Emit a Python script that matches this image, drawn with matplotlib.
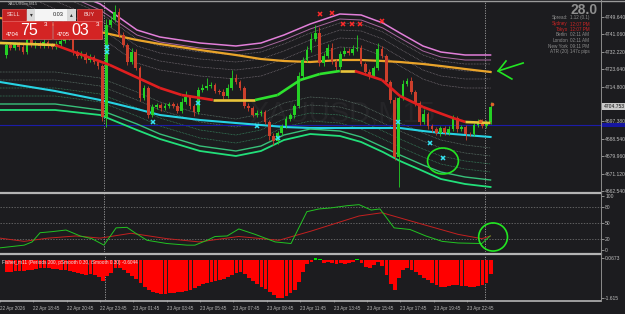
import matplotlib
matplotlib.use("Agg")
import matplotlib.pyplot as plt
import matplotlib.transforms as mtransforms
from matplotlib.patches import Rectangle, Ellipse

plt.rcParams['font.family'] = ['Liberation Sans', 'DejaVu Sans']

W, H = 625, 314
BG = '#1c1c1f'

# ---- candles (M15), prices ----
first_open = 4730.6
closes = [
    4735.6, 4734.1, 4736.1, 4734.6, 4732.1, 4738.1, 4735.6, 4736.6, 4735.1, 4737.1,
    4735.6, 4734.6, 4736.1, 4737.6, 4739.1, 4740.1, 4732.1, 4730.1, 4731.1, 4728.1,
    4729.6, 4727.1, 4725.1, 4699.6, 4745.6, 4748.1, 4752.1, 4740.6, 4735.6, 4727.1,
    4732.1, 4724.1, 4709.1, 4714.1, 4700.6, 4704.6, 4705.6, 4704.1, 4705.1, 4706.1,
    4705.1, 4702.6, 4707.1, 4709.6, 4705.1, 4702.1, 4713.1, 4714.1, 4715.1, 4715.6,
    4712.6, 4712.1, 4710.1, 4714.1, 4719.1, 4717.1, 4714.1, 4705.1, 4704.1, 4700.6,
    4701.6, 4702.1, 4697.1, 4690.1, 4687.6, 4691.6, 4695.1, 4698.6, 4700.6, 4705.1,
    4720.1, 4728.1, 4733.1, 4738.6, 4741.6, 4726.6, 4730.1, 4734.1, 4727.1, 4724.6,
    4731.1, 4732.6, 4731.6, 4733.6, 4734.1, 4726.1, 4722.1, 4720.1, 4724.1, 4733.6,
    4730.1, 4717.1, 4708.1, 4679.6, 4709.1, 4716.1, 4717.6, 4712.1, 4706.6, 4697.1,
    4701.1, 4695.1, 4693.6, 4691.6, 4694.1, 4691.6, 4693.6, 4699.1, 4693.6, 4694.6,
    4691.1, 4690.9, 4695.6, 4697.1, 4695.1, 4697.1, 4704.8,
]
wick_up = [
    1, 1.5, 1, 1, 2, 1, 1.5, 1, 1, 1.5,
    1, 1, 1.5, 1, 2, 1.5, 1, 1, 1.5, 1,
    1.5, 1, 1, 1, 3, 2, 3.5, 2, 1.5, 1,
    2, 1.5, 1, 1.5, 1, 1.5, 1, 1, 1.5, 1,
    1, 1.5, 2, 3, 1, 1, 1.5, 2, 4, 1.5,
    1, 1, 1.5, 2, 4, 2, 1, 1, 1.5, 1,
    1.5, 1, 1, 1, 1.5, 1, 1, 1.5, 1, 1,
    2, 1.5, 2, 3, 4, 3, 1.5, 2, 2.5, 1.5,
    1.5, 2, 1.5, 2, 6.5, 1.5, 1, 1.5, 1, 3,
    1.5, 1, 1, 1.5, 1, 2, 1.5, 2, 1, 1,
    2.5, 1, 1, 1, 1, 1, 1.5, 1.5, 1, 1,
    1, 1, 1, 1.5, 1.5, 1, 2.5,
]
wick_dn = [
    1.5, 1, 1, 1.5, 1, 1, 1, 1.5, 1, 1,
    1.5, 1, 1, 1, 1, 1, 1.5, 1, 1, 1.5,
    1, 1, 1.5, 2, 5, 1, 1, 1, 1, 1.5,
    1, 1, 1.5, 1, 1.5, 1, 1, 1.5, 1, 1,
    1, 1, 1, 1, 1.5, 2, 1, 1, 1, 1,
    1, 1, 1.5, 1, 1, 1, 1, 1, 1.5, 1,
    1, 1.5, 1, 2, 2, 1.5, 1, 1, 1, 1.5,
    1, 1, 1, 1, 1, 1.5, 1.5, 1, 1, 2,
    1, 1, 1, 1, 1, 1, 1.5, 1.5, 1, 1,
    1, 1, 1.5, 1.5, 15, 1, 1, 1, 1.5, 1.5,
    1, 1.5, 1.5, 1, 1.5, 1, 1, 1, 1.5, 1,
    3, 1, 1, 1, 1, 1, 1,
]

# ---- envelope lines, sampled at these bars ----
band_bars = [-1.5, 11.7, 22.5, 31.3, 36.8, 46.4, 55.0, 61.0, 66.5,
             72.8, 79.9, 85.0, 90.2, 94.3, 99.8, 104.1, 109.9, 116.0]
pink_outer = [4778.1, 4765.6, 4756.1, 4743.1, 4739.6, 4736.6, 4735.1, 4736.6, 4740.6,
              4746.1, 4751.1, 4750.6, 4746.6, 4741.6, 4735.1, 4732.1, 4730.6, 4730.6]
pink_inner = [4775.6, 4763.1, 4753.1, 4740.6, 4737.1, 4734.1, 4732.6, 4734.1, 4738.1,
              4743.6, 4748.6, 4748.1, 4744.1, 4739.1, 4732.6, 4729.6, 4728.1, 4728.1]
upper_lvl1 = [4773.6, 4761.1, 4751.6, 4738.6, 4735.1, 4732.1, 4730.6, 4732.1, 4736.1,
              4741.6, 4746.6, 4746.1, 4742.1, 4737.1, 4730.6, 4727.6, 4726.1, 4726.1]
upper_lvl2 = [4770.1, 4757.6, 4748.1, 4735.1, 4731.6, 4728.6, 4727.1, 4728.6, 4732.6,
              4738.1, 4743.1, 4742.6, 4738.6, 4733.6, 4727.1, 4724.1, 4722.6, 4722.6]
upper_lvl3 = [4766.1, 4753.6, 4744.1, 4731.1, 4727.6, 4724.6, 4723.1, 4724.6, 4728.6,
              4734.1, 4739.1, 4738.6, 4734.6, 4729.6, 4723.1, 4720.1, 4718.6, 4718.6]
upper_lvl4 = [4761.6, 4749.1, 4739.6, 4726.6, 4723.1, 4720.1, 4718.6, 4720.1, 4724.1,
              4729.6, 4734.6, 4734.1, 4730.1, 4725.1, 4718.6, 4715.6, 4714.1, 4714.1]
slow_ma = [4749.1, 4745.6, 4742.1, 4738.1, 4736.1, 4733.1, 4730.6, 4728.6, 4727.6,
           4727.1, 4728.1, 4728.1, 4727.6, 4727.1, 4726.1, 4725.1, 4723.6, 4722.1]
cyan_ma = [4717.1, 4712.6, 4708.1, 4703.6, 4700.6, 4698.1, 4696.6, 4695.6, 4694.6,
           4694.1, 4694.1, 4694.1, 4694.1, 4694.1, 4692.6, 4691.6, 4690.6, 4689.6]
lower_lvl4 = [4722.1, 4722.1, 4719.1, 4712.1, 4707.1, 4701.1, 4698.6, 4701.1, 4706.6,
              4709.6, 4708.6, 4705.6, 4700.6, 4696.6, 4691.6, 4688.1, 4685.6, 4684.1]
lower_lvl3 = [4718.1, 4718.1, 4715.1, 4708.1, 4703.1, 4697.1, 4694.6, 4697.1, 4702.6,
              4705.6, 4704.6, 4701.6, 4696.6, 4692.6, 4687.6, 4684.1, 4681.6, 4680.1]
lower_lvl2 = [4714.1, 4714.1, 4711.1, 4704.1, 4699.1, 4693.1, 4690.6, 4693.1, 4698.6,
              4701.6, 4700.6, 4697.6, 4692.6, 4688.6, 4683.6, 4680.1, 4677.6, 4676.1]
lower_lvl1 = [4710.1, 4710.1, 4707.1, 4700.1, 4695.1, 4689.1, 4686.6, 4689.1, 4694.6,
              4697.6, 4696.6, 4693.6, 4688.6, 4684.6, 4679.6, 4676.1, 4673.6, 4672.1]
green_upper = [4706.1, 4706.1, 4703.1, 4696.1, 4691.1, 4685.1, 4682.6, 4685.1, 4690.6,
               4693.6, 4692.6, 4689.6, 4684.6, 4680.6, 4675.6, 4672.1, 4669.6, 4668.1]
green_lower = [4703.1, 4703.1, 4700.6, 4693.1, 4688.6, 4682.6, 4680.1, 4682.6, 4688.1,
               4691.1, 4690.1, 4687.1, 4682.1, 4677.6, 4672.6, 4668.6, 4666.1, 4664.6]

# centre line, coloured by slope
center_bars = [-1.5, 11.7, 24.8, 36.8, 42.0, 49.5, 59.6, 65.0, 70.4, 75.1, 79.9,
               83.5, 90.0, 94.3, 99.8, 107.0, 110.0, 116.0]
center_vals = [4736.6, 4735.6, 4725.6, 4714.1, 4710.6, 4708.1, 4708.1, 4710.6, 4718.1,
               4721.1, 4722.6, 4722.6, 4718.1, 4710.1, 4704.6, 4699.1, 4697.1, 4696.6]
center_trend = ['flat', 'down', 'down', 'down', 'down', 'flat', 'up', 'up', 'up', 'up',
                'flat', 'down', 'down', 'down', 'down', 'down', 'flat']

blue_level = 4695.6
sell_bars = [75.1, 78.0, 80.7, 82.8, 84.7, 90.0]
sell_vals = [4751.1, 4751.6, 4746.1, 4746.1, 4746.1, 4747.6]
buy_bars = [24.1, 24.1, 35.1, 45.9, 60.1, 65.1, 93.8, 101.5, 104.6]
buy_vals = [4734.6, 4732.1, 4697.1, 4706.6, 4695.1, 4689.1, 4697.1, 4686.6, 4679.1]
dot_bars = [113.5, 116.3]
dot_vals = [4697.6, 4706.1]

price_ticks = [4749.64, 4741.06, 4732.22, 4723.64, 4714.80, 4697.38, 4688.54,
               4679.96, 4671.12, 4662.54]
bid = 4704.753

# ---- stochastic window ----
stoch_bars = [-1.5, 4.3, 6.2, 8.1, 11.0, 14.3, 17.7, 20.5, 23.4, 26.3, 28.9, 30.8, 33.7,
              38.5, 43.3, 45.2, 48.1, 50.0, 52.9, 55.7, 59.6, 64.4, 68.2, 72.0, 74.9,
              77.8, 81.6, 84.5, 87.4, 89.5, 92.9, 96.7, 100.5, 104.4, 108.2, 113.9, 115.9]
stoch_main = [4, 9, 15, 32, 34, 37, 26, 21, 9, 41, 42, 32, 18, 12, 9, 9, 18, 25, 26, 39,
              29, 15, 12, 71, 76, 78, 82, 84, 74, 76, 41, 38, 26, 16, 13, 12, 26]
signal_bars = [-1.5, 4.3, 10.0, 16.7, 22.5, 29.9, 38.5, 46.2, 55.7, 65.3, 73.0, 84.5,
               90.0, 98.6, 108.2, 113.9, 116.0]
stoch_signal = [22, 16, 22, 26, 22, 31, 21, 15, 25, 18, 35, 63, 69, 50, 29, 21, 26]
stoch_levels = [80, 50, 20]

# ---- Fisher histogram, one value per candle ----
fisher = [
    -0.51, -0.51, -0.47, -0.47, -0.47, -0.42, -0.42, -0.38, -0.34, -0.34,
    -0.34, -0.38, -0.38, -0.42, -0.42, -0.47, -0.51, -0.55, -0.59, -0.64,
    -0.59, -0.64, -0.72, -0.89, -0.68, -0.55, -0.34, -0.34, -0.42, -0.55,
    -0.68, -0.81, -0.98, -1.15, -1.27, -1.36, -1.40, -1.44, -1.44, -1.40,
    -1.40, -1.36, -1.36, -1.32, -1.27, -1.19, -1.10, -1.02, -0.98, -0.93,
    -0.89, -0.85, -0.81, -0.72, -0.64, -0.55, -0.51, -0.59, -0.76, -0.89,
    -1.02, -1.15, -1.23, -1.36, -1.49, -1.615, -1.615, -1.53, -1.40, -1.27,
    -0.93, -0.51, -0.17, -0.08, 0.08, 0.04, -0.13, -0.08, -0.13, -0.17,
    -0.13, -0.17, -0.13, -0.08, 0.04, -0.13, -0.30, -0.34, -0.21, -0.08,
    -0.25, -0.64, -1.02, -1.27, -0.76, -0.42, -0.34, -0.42, -0.51, -0.64,
    -0.76, -0.85, -0.98, -1.06, -1.15, -1.15, -1.10, -1.06, -1.06, -1.10,
    -1.10, -1.15, -1.15, -1.10, -1.06, -0.98, -0.60,
]

time_bars = [-1.7 + 8 * k for k in range(15)]
time_labels = ['22 Apr 2026', '22 Apr 18:45', '22 Apr 20:45', '22 Apr 23:45',
               '23 Apr 01:45', '23 Apr 03:45', '23 Apr 05:45', '23 Apr 07:45',
               '23 Apr 09:45', '23 Apr 11:45', '23 Apr 13:45', '23 Apr 15:45',
               '23 Apr 17:45', '23 Apr 19:45', '23 Apr 22:45']
separators = [23.4, 114.7]

info_labels = ['Spread:', 'Sydney', 'Tokyo', 'Berlin', 'London', 'New York', 'ATR (20)']
info_values = ['1.12 (0.1)', '12:07 PM', '12:07 PM', '02:11 AM', '02:11 AM',
               '09:11 PM', '147c pips']

# ------------------------------------------------------------------
fig = plt.figure(figsize=(W / 100, H / 100), dpi=100)
fig.patch.set_facecolor(BG)


def fr(y0, y1):
    # figure-fraction box for a window between pixel rows y0..y1
    return [0, 1 - y1 / H, 601 / W, (y1 - y0) / H]


ax = fig.add_axes(fr(1, 191.4))
ax1 = fig.add_axes(fr(194, 252))
ax2 = fig.add_axes(fr(256, 300))
XMIN, XMAX = -1.5, 142.45
for a in (ax, ax1, ax2):
    a.set_facecolor(BG)
    a.set_xlim(XMIN, XMAX)
    for s in a.spines.values():
        s.set_visible(False)
    a.yaxis.tick_right()
    a.tick_params(axis='y', colors='#bdbdbd', labelsize=3.6, length=2, width=0.5, pad=1)
    a.tick_params(axis='x', bottom=False, labelbottom=False)
    for xs in separators:
        a.axvline(xs, color='#a0a0a0', lw=0.6, ls=(0, (1.5, 1.5)), zorder=1)

# ---- main window ----
ax.set_ylim(4662.4, 4757.6)
ax.set_yticks(price_ticks, ['%.3f' % p for p in price_ticks])
blend = mtransforms.blended_transform_factory(ax.transAxes, ax.transData)
ax.text(0.57, 4701, 'XAUUSD,M15', transform=blend,
        ha='center', va='center', fontsize=21, color='#252528', zorder=0)

for lvl in (upper_lvl1, upper_lvl2, upper_lvl3, upper_lvl4):
    ax.plot(band_bars, lvl, color='#8a8088', lw=0.5, ls=(0, (1, 1.2)), zorder=1)
for lvl, c in ((lower_lvl4, '#6e8a7c'), (lower_lvl3, '#6e8a7c'), (lower_lvl2, '#3f9f6f'), (lower_lvl1, '#3f9f6f')):
    ax.plot(band_bars, lvl, color=c, lw=0.5, ls=(0, (1, 1.2)), zorder=1)
ax.axhline(blue_level, color='#1c1ca8', lw=0.8, zorder=1)

ax.plot(band_bars, pink_outer, color='#e27fd9', lw=1.1, zorder=2)
ax.plot(band_bars, pink_inner, color='#a9679f', lw=0.7, zorder=2)
ax.plot(band_bars, slow_ma, color='#eaa42a', lw=1.6, zorder=2)
ax.plot(band_bars, cyan_ma, color='#27d3e3', lw=1.5, zorder=2)
ax.plot(band_bars, green_upper, color='#38c07a', lw=1.0, zorder=2)
ax.plot(band_bars, green_lower, color='#22e07a', lw=1.3, zorder=2)

bull, bear = '#25d025', '#cc3f2c'
opens = [first_open] + closes[:-1]
for i, (o, c) in enumerate(zip(opens, closes)):
    col = bull if c >= o else bear
    hi = max(o, c) + wick_up[i]
    lo = min(o, c) - wick_dn[i]
    ax.vlines(i, lo, hi, color=col, lw=0.6, zorder=3)
    ax.bar(i, max(abs(c - o), 0.35), bottom=min(o, c), width=0.65, color=col, lw=0, zorder=3)

trend_colors = {'up': '#2ee22e', 'down': '#e01f1f', 'flat': '#e8c43a'}
for i, t in enumerate(center_trend):
    ax.plot(center_bars[i:i + 2], center_vals[i:i + 2], color=trend_colors[t], lw=1.9,
            solid_capstyle='butt', zorder=4)

ax.plot(sell_bars, sell_vals, 'x', color='#ff2a2a', ms=3.2, mew=1.1, zorder=5)
ax.plot(buy_bars, buy_vals, 'x', color='#35e3f3', ms=3.2, mew=1.1, zorder=5)
ax.plot(dot_bars, dot_vals, 'o', color='#e0602a', ms=1.6, zorder=5)

# price marks on the scale: bid box and the blue level tag
ax.text(1.004, bid, '%.3f' % bid, transform=blend, ha='left', va='center', fontsize=3.6,
        color='#111111', clip_on=False, zorder=7,
        bbox=dict(boxstyle='square,pad=0.2', fc='#c8c8c8', ec='none'))
ax.add_patch(Rectangle((1.0, blue_level - 1.2), 0.04, 2.4, transform=blend, fc='#1616a0',
                       ec='none', clip_on=False, zorder=6))

# hand drawn marks
hand = '#22e622'
ax.add_patch(Ellipse((104.6, 4677.6), 7.4, 13, angle=0, fill=False, ec=hand, lw=1.2,
                     clip_on=False, zorder=6))
ax.plot([123.8, 117.8], [4726.6, 4722.6], color=hand, lw=1.2, zorder=6)
ax.plot([119.7, 117.8, 121.1], [4727.6, 4722.6, 4718.6], color=hand, lw=1.2, zorder=6)

# ---- stochastic window ----
ax1.set_ylim(-3.7, 103.7)
ax1.set_yticks([100, 80, 50, 20, 0], ['100', '80', '50', '20', '0'])
for lv in stoch_levels:
    ax1.axhline(lv, color='#7c7c7c', lw=0.5, ls=(0, (2, 2)))
ax1.plot(signal_bars, stoch_signal, color='#c42020', lw=0.7)
ax1.plot(stoch_bars, stoch_main, color='#22c422', lw=0.7)
ax1.add_patch(Ellipse((116.6, 24.1), 6.9, 52, fill=False, ec=hand, lw=1.2, clip_on=False, zorder=6))

# ---- Fisher window ----
ax2.set_ylim(-1.70, 0.17)
ax2.bar(range(len(fisher)), fisher, width=0.9,
        color=['#ff0000' if v < 0 else '#00e000' for v in fisher], lw=0)
ax2.set_yticks([0.0673, -1.615], ['0.0673', '-1.615'])
ax2.text(0.004, 0.92, 'Fisher_m11 (Periods 200, pSmooth 0.30, iSmooth 0.30) -0.6044',
         transform=ax2.transAxes, fontsize=3.4, color='#e6e6e6', va='top')
ax2.set_xticks(time_bars, time_labels)
ax2.tick_params(axis='x', bottom=True, labelbottom=True, length=1.5, width=0.4,
                colors='#b8b8b8', labelsize=3.3, pad=2.5)
for t in ax2.get_xticklabels():
    t.set_ha('left')


# ---- window frames ----
def hline(y, x0, x1, c, lw):
    fig.add_artist(plt.Line2D([x0 / W, x1 / W], [1 - y / H, 1 - y / H], color=c, lw=lw))


hline(0.5, 0, W, '#9a9a9a', 1.0)
hline(192.6, 0, 601, '#b4b4b4', 1.6)
hline(254.3, 0, 601, '#b4b4b4', 1.6)
hline(301.2, 0, 601, '#b4b4b4', 1.2)
fig.add_artist(plt.Line2D([601 / W, 601 / W], [1 - 301 / H, 1], color='#8c8c8c', lw=0.7))


# ---- one-click trading panel ----
def box(x0, y0, x1, y1, fc, ec='none'):
    fig.add_artist(Rectangle((x0 / W, 1 - y1 / H), (x1 - x0) / W, (y1 - y0) / H,
                             transform=fig.transFigure, fc=fc, ec=ec, lw=0.5))


def ftext(x, y, s, **kw):
    fig.text(x / W, 1 - y / H, s, **kw)


ftext(8, 4, 'XAUUSDm,M15', fontsize=3, color='#bdbdbd', va='center')
box(2, 9, 26, 21, '#c42222', '#e25a5a')
box(27, 9, 35, 21, '#d8d8d8')
box(35, 9, 67, 21, '#f4f4f4')
box(67, 9, 76, 21, '#d8d8d8')
box(77, 9, 102, 21, '#c42222', '#e25a5a')
box(2, 21.5, 52, 39, '#d42424', '#e86060')
box(53, 21.5, 102, 39, '#d42424', '#e86060')
ftext(14, 15, 'SELL', fontsize=4, color='#f4dada', ha='center', va='center')
ftext(89.5, 15, 'BUY', fontsize=4, color='#f4dada', ha='center', va='center')
ftext(31, 15, '\u25be', fontsize=4, color='#333333', ha='center', va='center')
ftext(71.5, 15, '\u25b4', fontsize=4, color='#333333', ha='center', va='center')
ftext(64, 15, '0.03', fontsize=4, color='#222222', ha='right', va='center')
ftext(6, 34, '4704', fontsize=4.2, color='white', va='center')
ftext(20, 30.5, '75', fontsize=11.5, color='white', va='center')
ftext(44, 25, '3', fontsize=4.5, color='white', va='center')
ftext(57, 34, '4705', fontsize=4.2, color='white', va='center')
ftext(71, 30.5, '03', fontsize=11.5, color='white', va='center')
ftext(96, 25, '3', fontsize=4.5, color='white', va='center')

# ---- info block ----
ftext(598, 9.5, '28.0', fontsize=10, color='#8e8e8e', ha='right', va='center', fontweight='bold')
info_rows = [18, 24, 29.5, 35, 41, 46.5, 52]
for k, (lab, val) in enumerate(zip(info_labels, info_values)):
    col = '#d02424' if k in (1, 2) else '#8c8c8c'
    ftext(568, info_rows[k], lab, fontsize=3.3, color=col, ha='right', va='center')
    ftext(570, info_rows[k], val, fontsize=3.3, color=col, ha='left', va='center')

fig.savefig('out.png', dpi=100, facecolor=BG)
